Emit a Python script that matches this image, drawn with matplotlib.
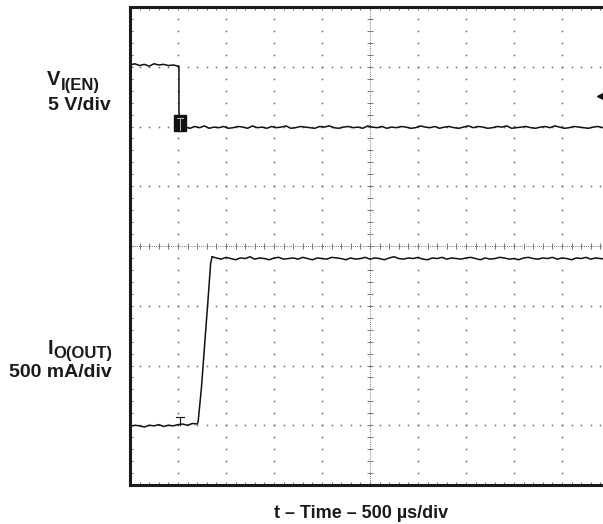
import numpy as np
import matplotlib
matplotlib.use('Agg')
import matplotlib.pyplot as plt
from matplotlib.patches import Rectangle

# scope screen: 10 x 8 divisions, values in divisions
n_xdiv = 10
n_ydiv = 8
t_step = 0.1

# V_I(EN), 5 V/div
ch1_high_t0 = 0.0
ch1_high = [7.03, 7.05, 7.02, 7.04, 7.01, 7.05, 7.03, 7.04, 7.02, 7.03, 7.01]
ch1_edge_t = [1.0, 1.02, 1.02, 1.03]
ch1_edge_v = [7.01, 7.01, 6.25, 6.10]
ch1_low_t0 = 1.15
ch1_low = [5.99, 5.97, 6.00, 5.98, 6.01, 5.97, 5.99, 5.98, 6.00, 5.97,
           5.98, 6.00, 5.99, 5.97, 6.01, 5.98, 5.99, 5.97, 6.00, 5.98,
           5.99, 6.01, 5.97, 5.98, 6.00, 5.99, 5.98, 5.97, 6.00, 5.99,
           6.01, 5.98, 5.97, 5.99, 6.00, 5.98, 5.99, 5.97, 6.01, 5.99,
           5.98, 6.00, 5.97, 5.99, 5.98, 6.00, 5.99, 5.97, 5.98, 6.01,
           5.99, 5.98, 6.00, 5.97, 5.99, 6.00, 5.98, 5.97, 5.99, 6.01,
           5.98, 6.00, 5.99, 5.97, 5.98, 6.00, 5.99, 6.01, 5.97, 5.98,
           5.99, 6.00, 5.98, 5.97, 5.99, 6.00, 5.98, 6.01, 5.99, 5.97,
           5.98, 6.00, 5.99, 5.98, 5.97, 5.99, 6.00, 5.98, 5.99]

# I_O(OUT), 500 mA/div
ch2_low_t0 = 0.0
ch2_low = [0.98, 1.00, 0.99, 0.97, 1.00, 0.99, 1.01, 0.98, 1.00, 0.99,
           1.01, 1.02, 1.00, 1.03, 1.02]
ch2_rise_t = [1.42, 1.49, 1.5625, 1.63, 1.68, 1.71]
ch2_rise_v = [1.06, 1.645, 2.43, 3.15, 3.71, 3.82]
ch2_high_t0 = 1.8
ch2_high = [3.80, 3.78, 3.81, 3.79, 3.77, 3.80, 3.79, 3.82, 3.78, 3.80,
            3.79, 3.77, 3.80, 3.81, 3.78, 3.79, 3.80, 3.78, 3.81, 3.79,
            3.77, 3.80, 3.79, 3.78, 3.81, 3.80, 3.79, 3.77, 3.80, 3.78,
            3.79, 3.81, 3.78, 3.80, 3.79, 3.77, 3.80, 3.82, 3.79, 3.78,
            3.80, 3.79, 3.81, 3.78, 3.77, 3.80, 3.79, 3.81, 3.78, 3.80,
            3.79, 3.78, 3.80, 3.81, 3.79, 3.77, 3.80, 3.78, 3.79, 3.81,
            3.80, 3.78, 3.79, 3.77, 3.80, 3.81, 3.79, 3.78, 3.80, 3.79,
            3.81, 3.78, 3.80, 3.79, 3.77, 3.80, 3.79, 3.81, 3.78, 3.80,
            3.79, 3.78, 3.80]

trig_t = 1.04
ch1_trig_v = 6.05
ch2_trig_v = 1.14
trig_level_v = 6.51

W, H = 603, 524
plt.rcParams['font.family'] = ['Liberation Sans', 'DejaVu Sans']

fig = plt.figure(figsize=(W / 100, H / 100), dpi=100)
ax = fig.add_axes([130 / W, 39 / H, 480 / W, 478 / H])
ax.set_xlim(0, n_xdiv)
ax.set_ylim(0, n_ydiv)

for s in ['left', 'top', 'bottom']:
    ax.spines[s].set_linewidth(2.2)
    ax.spines[s].set_color('#1a1a1a')
ax.spines['right'].set_visible(False)

ax.set_xticks(np.arange(0, n_xdiv + 0.01, 0.2))
ax.set_yticks(np.arange(0, n_ydiv + 0.01, 0.2))
ax.tick_params(direction='in', length=2.5, width=0.7, color='#666666',
               top=True, labelbottom=False, labelleft=False)

# dotted graticule
dot = dict(linestyle='none', marker='s', markersize=1.1, color='#6a6a6a', mec='none')
for i in range(1, n_xdiv):
    if i == n_xdiv // 2:
        continue
    yy = np.arange(0.2, n_ydiv, 0.2)
    ax.plot(np.full_like(yy, i), yy, **dot)
for j in range(1, n_ydiv):
    if j == n_ydiv // 2:
        continue
    xx = np.arange(0.2, n_xdiv, 0.2)
    ax.plot(xx, np.full_like(xx, j), **dot)

# centre cross with ticks
cx, cy = n_xdiv / 2, n_ydiv / 2
ax.axhline(cy, color='#777777', lw=0.7, ls=(0, (1, 1.2)))
ax.axvline(cx, color='#777777', lw=0.7, ls=(0, (1, 1.2)))
xt = np.arange(0, n_xdiv + 0.01, 0.2)
ax.plot(xt, np.full_like(xt, cy), ls='none', marker='|', ms=5, mew=0.7, color='#777777')
yt = np.arange(0, n_ydiv + 0.01, 0.2)
ax.plot(np.full_like(yt, cx), yt, ls='none', marker='_', ms=5, mew=0.7, color='#777777')

trace = dict(color='#111111', lw=1.1)

# channel 1
t1h = ch1_high_t0 + t_step * np.arange(len(ch1_high))
ax.plot(t1h, ch1_high, **trace)
ax.plot(ch1_edge_t, ch1_edge_v, **trace)
t1l = ch1_low_t0 + t_step * np.arange(len(ch1_low))
ax.plot(np.r_[1.12, t1l], np.r_[ch1_low[0], ch1_low], **trace)

ax.add_patch(Rectangle((trig_t - 0.125, ch1_trig_v - 0.13), 0.25, 0.27,
                       facecolor='#111111', edgecolor='#111111', zorder=5))
ax.plot([trig_t - 0.07, trig_t + 0.07], [ch1_trig_v + 0.09, ch1_trig_v + 0.09],
        color='#bbbbbb', lw=0.7, zorder=6)
ax.plot([trig_t, trig_t], [ch1_trig_v + 0.09, ch1_trig_v - 0.11],
        color='#bbbbbb', lw=0.7, zorder=6)

# channel 2
t2l = ch2_low_t0 + t_step * np.arange(len(ch2_low))
ax.plot(np.r_[t2l, ch2_rise_t], np.r_[ch2_low, ch2_rise_v], **trace)
t2h = ch2_high_t0 + t_step * np.arange(len(ch2_high))
ax.plot(np.r_[ch2_rise_t[-1], t2h], np.r_[ch2_rise_v[-1], ch2_high], **trace)
ax.plot([trig_t - 0.08, trig_t + 0.08], [ch2_trig_v, ch2_trig_v], color='#111111', lw=0.8)
ax.plot([trig_t, trig_t], [ch2_trig_v, ch2_low[10]], color='#111111', lw=0.8)

# trigger level marker at right edge
ax.plot([9.82], [trig_level_v], marker='<', ms=6, color='#111111', clip_on=False)


def px(x, y):
    return x / W, 1 - y / H


bold = dict(weight='bold', color='#1a1a1a', va='baseline', ha='left')
fig.text(*px(47, 85), 'V', fontsize=14.5, **bold)
fig.text(*px(61, 90), 'I(EN)', fontsize=12, **bold)
fig.text(*px(48, 110), '5 V/div', fontsize=14, **bold)
fig.text(*px(48, 354), 'I', fontsize=14.5, **bold)
fig.text(*px(53, 358), 'O(OUT)', fontsize=12, **bold)
fig.text(*px(9, 377), '500 mA/div', fontsize=14, **bold)

fig.text(*px(361, 518), 't \u2013 Time \u2013 500 \u00b5s/div', fontsize=13,
         weight='bold', color='#1a1a1a', ha='center', va='baseline')

fig.savefig('out.png', dpi=100)
